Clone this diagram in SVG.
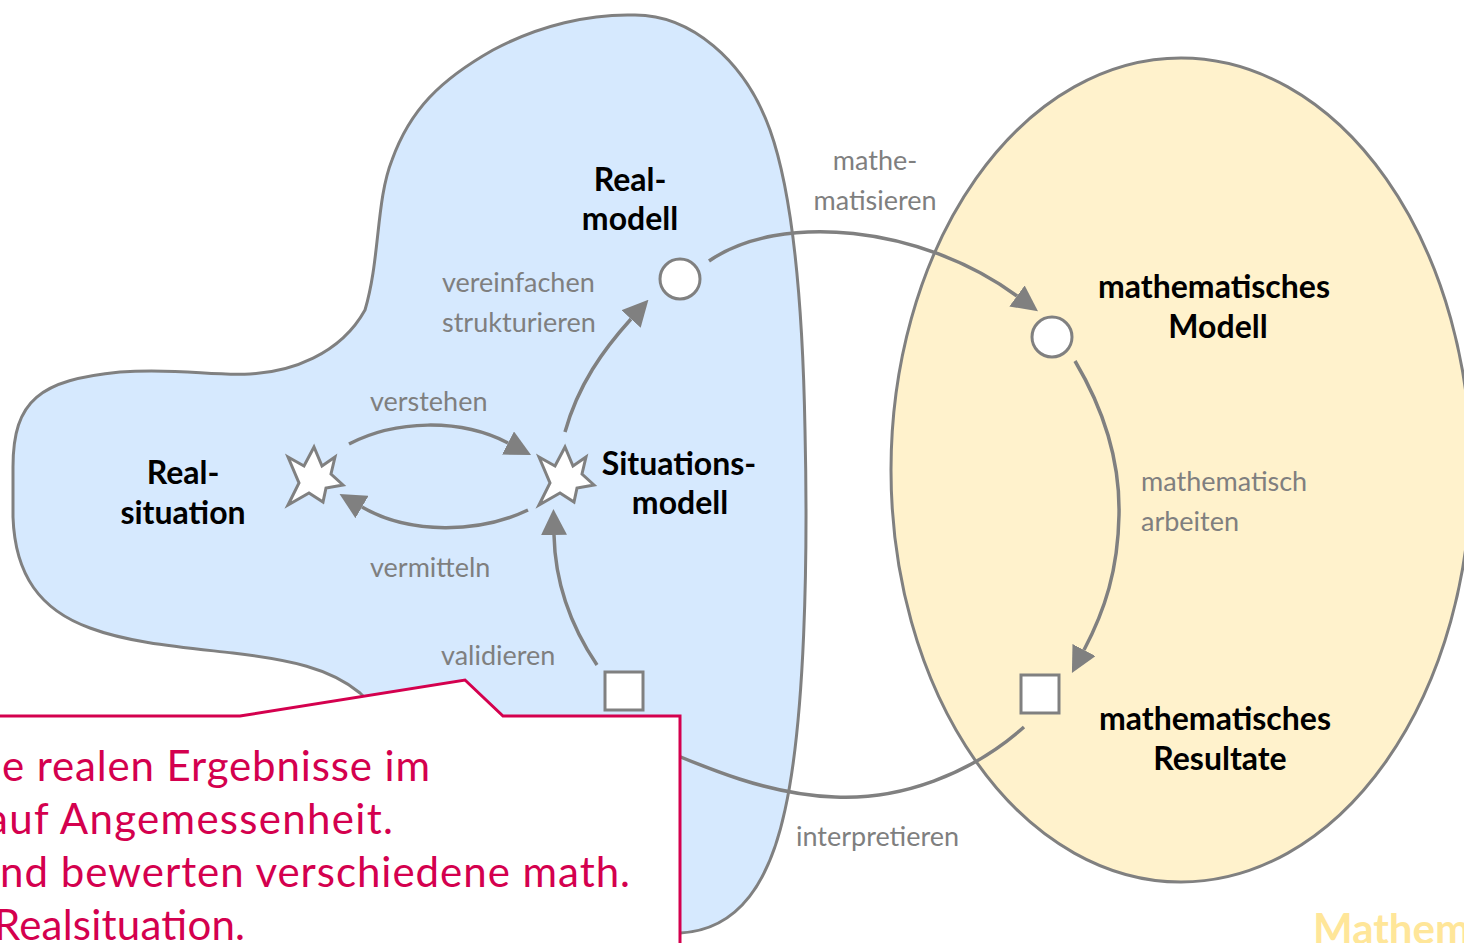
<svg xmlns="http://www.w3.org/2000/svg" width="1464" height="943" viewBox="0 0 1464 943">
<defs>
<style>
.area{stroke:#808080;stroke-width:3}
.conn{fill:none;stroke:#808080;stroke-width:3.5}
.node{fill:#fff;stroke:#808080;stroke-width:3}
.lbl{font-family:Lato,"Liberation Sans",sans-serif;font-weight:700;font-size:32px;fill:#000;text-anchor:middle}
.edge{font-family:Lato,"Liberation Sans",sans-serif;font-size:27px;fill:#7f7f7f}
.call{font-family:Lato,"Liberation Sans",sans-serif;font-size:42px;fill:#d4004e}
</style>
<marker id="arr" markerUnits="userSpaceOnUse" viewBox="0 0 26 26" markerWidth="26" markerHeight="26" refX="0" refY="13" orient="auto">
<path d="M0,0 L26,13 L0,26 Z" fill="#808080"/>
</marker>
<polygon id="star" points="288,457 304,466 314,447 322,466 335,457 331,474 343,485 326,488 323,502 309,493 288,505 299,483"/>
</defs>
<rect width="1464" height="943" fill="#fff"/>
<g id="areas">
<ellipse id="math-area" class="area" cx="1181" cy="470" rx="290" ry="412" fill="#fff2cc"/>
<path id="real-area" class="area" fill="#d6e9fe" d="M633,15 C690,14 745,60 770,130 C795,200 803,320 805,430 C808,560 805,720 785,810 C770,880 740,930 680,933 C560,940 430,760 360,693 C330,668 290,660 233,653 C180,647 130,643 90,628 C40,610 15,575 13,517 L13,467 C13,400 40,380 120,372 C180,368 210,376 250,374 C290,372 340,355 365,310 C380,260 376,200 392,160 C410,110 440,80 493,50 C540,25 590,14 633,15 Z"/>
</g>
<g id="connectors">
<path class="conn" marker-end="url(#arr)" d="M349,444 C395,420 460,418 508,443"/>
<path class="conn" marker-end="url(#arr)" d="M528,510 C480,533 410,535 362,507"/>
<path class="conn" marker-end="url(#arr)" d="M565,432 C578,385 603,350 631,319"/>
<path class="conn" marker-end="url(#arr)" d="M597,665 C570,625 555,580 554,535"/>
<path class="conn" marker-end="url(#arr)" d="M709,261 C780,212 920,225 1017,296"/>
<path class="conn" marker-end="url(#arr)" d="M1075,361 C1110,420 1120,470 1119,515 C1118,570 1105,610 1084,650"/>
<path class="conn" d="M1024,727 C970,775 900,800 835,797 C770,795 710,770 640,740"/>
</g>
<g id="realsituation">
<use href="#star" class="node"/>
<text class="lbl" x="183" y="484">Real-</text>
<text class="lbl" x="183" y="524">situation</text>
</g>
<g id="situationsmodell">
<use href="#star" class="node" transform="translate(251,0)"/>
<text class="lbl" x="679" y="475">Situations-</text>
<text class="lbl" x="680" y="514">modell</text>
</g>
<g id="realmodell">
<circle class="node" cx="680" cy="279" r="20"/>
<text class="lbl" x="630" y="191">Real-</text>
<text class="lbl" x="630" y="230">modell</text>
</g>
<g id="math-modell">
<circle class="node" cx="1052" cy="337" r="20"/>
<text class="lbl" x="1214" y="298">mathematisches</text>
<text class="lbl" x="1218" y="338">Modell</text>
</g>
<g id="math-resultate">
<rect class="node" x="1021" y="675" width="38" height="38"/>
<text class="lbl" x="1215" y="730">mathematisches</text>
<text class="lbl" x="1220" y="770">Resultate</text>
</g>
<g id="validieren-node">
<rect class="node" x="605" y="672" width="38" height="38"/>
</g>
<g id="edge-labels">
<text class="edge" x="875" y="170" text-anchor="middle">mathe-</text>
<text class="edge" x="875" y="210" text-anchor="middle">matisieren</text>
<text class="edge" x="442" y="292">vereinfachen</text>
<text class="edge" x="442" y="332">strukturieren</text>
<text class="edge" x="370" y="411">verstehen</text>
<text class="edge" x="370" y="577">vermitteln</text>
<text class="edge" x="441" y="665">validieren</text>
<text class="edge" x="1141" y="491">mathematisch</text>
<text class="edge" x="1141" y="531">arbeiten</text>
<text class="edge" x="796" y="846">interpretieren</text>
</g>
<g id="callout">
<path d="M-5,716 L240,716 L465,680 L503,716 L680,716 L680,950 L-5,950 Z" fill="#fff" stroke="#d4004e" stroke-width="3"/>
<text class="call" x="2" y="781" textLength="428">e realen Ergebnisse im</text>
<text class="call" x="-13" y="834" textLength="406">auf Angemessenheit.</text>
<text class="call" x="0" y="887" textLength="630">nd bewerten verschiedene math.</text>
<text class="call" x="-6" y="940" textLength="251">Realsituation.</text>
</g>
<g id="area-title">
<text x="1313" y="944" font-family="Lato,'Liberation Sans',sans-serif" font-weight="700" font-size="42" fill="#ffe699">Mathem</text>
</g>
</svg>
